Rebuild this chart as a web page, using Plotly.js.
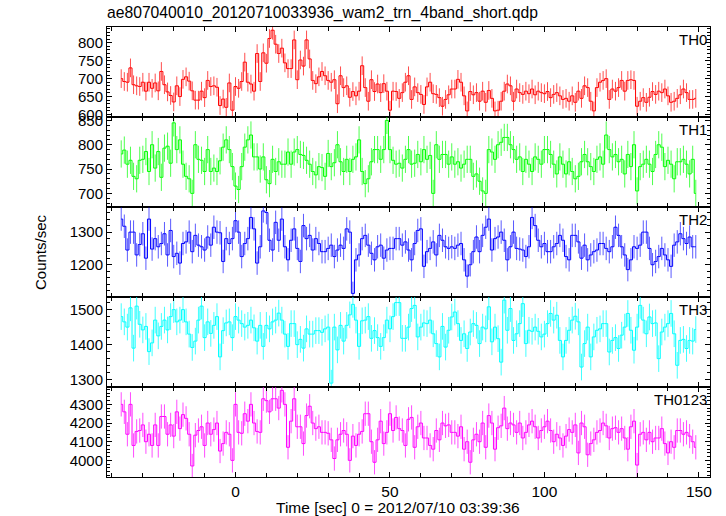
<!DOCTYPE html>
<html><head><meta charset="utf-8">
<script src="https://cdn.plot.ly/plotly-3.0.1.min.js"></script>
<style>html,body{margin:0;padding:0;background:#fff}#chart{width:726px;height:516px}</style>
</head><body><div id="chart"></div>
<script>
const fileTitle = 'ae807040010_20120710033936_wam2_trn_4band_short.qdp';
const xTitle = 'Time [sec] 0 = 2012/07/10 03:39:36';
const yTitle = 'Counts/sec';
const bandNames = ['TH0', 'TH1', 'TH2', 'TH3', 'TH0123'];

const time = [-37,-36,-35,-34,-33,-32,-31,-30,-29,-28,-27,-26,-25,-24,-23,-22,-21,-20,-19,-18,-17,-16,-15,-14,-13,-12,-11,-10,-9,-8,-7,-6,-5,-4,-3,-2,-1,
0,1,2,3,4,5,6,7,8,9,10,11,12,13,14,15,16,17,18,19,20,21,22,23,24,25,26,27,28,29,30,31,32,33,34,35,36,37,38,39,40,41,42,43,44,45,46,47,48,49,
50,51,52,53,54,55,56,57,58,59,60,61,62,63,64,65,66,67,68,69,70,71,72,73,74,75,76,77,78,79,80,81,82,83,84,85,86,87,88,89,90,91,92,93,94,95,96,97,98,99,
100,101,102,103,104,105,106,107,108,109,110,111,112,113,114,115,116,117,118,119,120,121,122,123,124,125,126,127,128,129,130,131,132,133,134,135,136,137,138,139,140,141,142,143,144,145,146,147,148,149];

const th0 = [700,692,690,730,683,680,678,690,665,690,673,688,666,720,683,663,653,635,680,650,698,705,693,666,640,640,665,647,695,678,680,676,625,643,620,688,612,
678,673,692,746,690,685,665,770,692,772,743,812,835,796,770,785,744,728,728,808,697,752,735,808,
755,695,686,705,720,708,695,690,697,630,708,675,680,648,664,652,665,736,675,637,697,664,685,661,686,665,612,665,664,645,661,690,708,642,677,661,656,628,677,690,
658,656,647,623,642,655,671,671,698,690,652,610,664,655,661,637,665,634,667,645,610,612,637,665,685,680,637,671,661,656,665,658,671,655,665,661,658,664,647,656,
661,652,642,645,637,652,634,665,645,680,675,637,610,675,690,695,700,642,671,665,675,695,665,695,697,695,623,637,647,634,648,664,656,665,661,671,652,634,637,645,
655,671,661,642,642,645];

const th1 = [781,789,760,768,735,730,768,770,786,745,800,752,786,733,793,797,762,845,790,810,760,735,730,700,800,770,768,745,790,745,752,745,767,795,810,790,755,
715,708,755,795,810,820,775,775,750,775,728,720,770,745,765,760,760,785,760,785,790,780,778,768,760,745,738,755,753,735,782,755,763,800,765,745,770,745,770,775,
810,745,720,730,765,790,790,770,790,850,
790,768,760,762,752,770,790,760,762,780,765,790,770,778,700,800,770,780,780,760,775,760,765,752,760,770,770,735,740,725,705,700,790,785,770,800,805,815,815,800,
790,770,775,745,770,760,745,775,770,760,790,790,780,760,740,775,760,740,765,745,730,735,765,780,765,755,745,770,775,760,820,790,775,780,765,770,740,780,755,800,
705,755,760,770,760,745,780,800,795,755,768,760,730,765,765,770,760,740,770,700];

const th2 = [1340,1318,1245,1300,1300,1230,1262,1295,1220,1340,1248,1280,1255,1265,1295,1230,1305,1225,1235,1205,1265,1270,1300,1240,1290,1260,1255,1245,1285,1260,1315,1300,1298,1210,1280,1265,1280,
1335,1300,1225,1265,1280,1345,1310,1205,1255,1365,1360,1275,1245,1330,1275,1340,1255,1215,1275,1310,1250,1210,1320,1280,1290,1245,1280,1265,1240,1240,1250,1260,1225,1245,1260,1250,1310,1300,1112,1215,
1230,1280,1290,1260,1235,1215,1255,1260,1220,1245,
1250,1250,1280,1280,1260,1270,1245,1215,1265,1305,1310,1195,1240,1250,1270,1230,1290,1275,1255,1250,1255,1250,1260,1265,1215,1165,1200,1240,1285,1240,1290,1315,1340,1245,1280,1285,1300,1275,1215,1255,
1300,1250,1248,1245,1225,1255,1345,1320,1275,1255,1265,1240,1240,1255,1265,1290,1275,1225,1215,1290,1290,1270,1220,1260,1215,1230,1240,1245,1265,1265,1250,1240,1255,1315,1290,1255,1230,1185,1215,1255,
1250,1260,1300,1300,1250,1200,1210,1225,1250,1230,1215,1195,1260,1270,1295,1280,1265,1285,1255,1255];

const th3 = [1480,1465,1450,1505,1390,1510,1458,1442,1452,1380,1405,1470,1425,1452,1470,1442,1480,1500,1465,1470,1500,1465,1430,1392,1410,1470,1510,1420,1465,1432,1455,1480,1365,1440,1462,1465,1420,
1480,1470,1460,1450,1455,1470,1448,1410,1455,1395,1455,1445,1465,1470,1490,1470,1430,1395,1460,1460,1400,1415,1390,1445,1430,1430,1440,1440,1435,1445,1450,1290,1450,1385,1455,1410,1455,1485,1515,1470,
1395,1468,1470,1480,1418,1440,1420,1395,1420,1470,
1445,1480,1520,1520,1418,1418,1450,1503,1512,1422,1450,1462,1460,1470,1431,1403,1365,1452,1393,1441,1479,1493,1460,1412,1431,1389,1436,1460,1455,1403,1450,1445,
1508,1408,1450,1417,1350,1527,1441,1503,1412,1431,1460,1517,1403,1441,1438,1450,1438,1422,1430,
1460,1489,1470,1484,1412,1365,1412,1441,1470,1481,1465,1336,1403,1450,1365,1422,1441,1445,1460,1460,1379,1412,1420,
1389,1427,1450,1489,1441,1384,1450,1512,1470,1431,1479,1460,1462,1360,1436,1450,
1460,1489,1431,1341,1412,1415,1389,1412,1410,1443];

const th0123 = [4300,4260,4140,4300,4080,4155,4160,4190,4100,4140,4080,4190,4080,4235,4235,4140,4190,4130,4260,4170,4245,4225,4140,3970,4135,4160,4180,4080,4200,4140,4165,4200,4050,4090,4150,4140,4000,
4300,4150,4145,4250,4210,4300,4200,4155,4150,4330,4320,4260,4330,4330,4280,4375,4300,4070,4210,4330,4180,4180,4090,4240,4290,4200,4170,4180,4150,4150,4145,4110,4010,4110,4140,4160,4140,4000,4130,4080,
4140,4155,4250,4250,4100,3990,4110,4210,4090,4150,
4250,4160,4230,4170,4160,4080,4220,4230,4070,4180,4200,4120,4120,4080,4060,4160,4110,4200,4185,4190,4150,4150,4130,4180,4060,4100,3990,4110,4140,4100,4200,4070,4240,4200,4060,4175,4185,4280,4170,4200,
4190,4150,4200,4120,4150,4190,4210,4180,4120,4160,4180,4210,4160,4100,4140,4120,4080,4130,4165,4150,4190,4040,4200,4180,4030,4090,4110,4150,4160,4200,4185,4120,4170,4175,4150,4170,4120,4060,4180,4210,
3975,4140,4150,4110,4150,4100,4120,4120,4170,4090,4040,4100,4070,4160,4160,4140,4150,4130,4100,4070];

const series = [th0, th1, th2, th3, th0123];

const cfg = [
  {color:'#ff0000', errColor:'rgba(255,0,0,0.7)', err:26, range:[593,844], dtick:50, minor:10},
  {color:'#00ff00', errColor:'rgba(0,255,0,0.7)', err:28, range:[672,857], dtick:50, minor:10},
  {color:'#0000ff', errColor:'rgba(0,0,255,0.65)', err:36, range:[1101,1377], dtick:100, minor:20},
  {color:'#00ffff', errColor:'rgba(0,255,255,0.75)', err:38, range:[1279,1536], dtick:100, minor:20},
  {color:'#ff00ff', errColor:'rgba(255,0,255,0.7)', err:65, range:[3911,4393], dtick:100, minor:20}
];

const FONT = '"Liberation Sans", Arial, Helvetica, sans-serif';
const traces = [];
const layout = {
  width:726, height:516,
  margin:{l:107, r:16, t:27, b:39, pad:0},
  paper_bgcolor:'#fff', plot_bgcolor:'#fff',
  showlegend:false,
  font:{family:FONT, size:15, color:'#000'},
  title:{text:fileTitle, xref:'container', x:107/726, xanchor:'left', yref:'container', y:1-13/516, yanchor:'middle', font:{family:FONT, size:15.7, color:'#000'}},
  annotations:[]
};

const n = series.length;
for (let i = 0; i < n; i++) {
  const k = i + 1;
  const c = cfg[i];
  traces.push({
    x: time, y: series[i], type:'scatter', mode:'lines',
    xaxis: 'x' + (k === 1 ? '' : k), yaxis: 'y' + (k === 1 ? '' : k),
    line:{shape:'hvh', width:1, color:c.color},
    error_y:{type:'constant', value:c.err, color:c.errColor, thickness:1, width:0},
    hoverinfo:'skip'
  });
  const xa = {
    range:[-41.6, 153.6], showline:true, mirror:'allticks', linecolor:'#000', linewidth:1,
    ticks:'inside', ticklen:5, tickcolor:'#000', tickwidth:1, tick0:0, dtick:50,
    minor:{dtick:10, ticks:'inside', ticklen:4, tickcolor:'#000', tickwidth:1},
    showgrid:false, zeroline:false, showticklabels: k === n,
    anchor: 'y' + (k === 1 ? '' : k),
    tickfont:{family:FONT, size:15.5, color:'#000'}
  };
  if (k > 1) xa.matches = 'x';
  layout['xaxis' + (k === 1 ? '' : k)] = xa;
  layout['yaxis' + (k === 1 ? '' : k)] = {
    domain:[1 - k / n, 1 - i / n], range:c.range,
    showline:true, mirror:'allticks', linecolor:'#000', linewidth:1,
    ticks:'inside', ticklen:5, tickcolor:'#000', tickwidth:1, tick0:0, dtick:c.dtick,
    minor:{dtick:c.minor, ticks:'inside', ticklen:3, tickcolor:'#000', tickwidth:1},
    showgrid:false, zeroline:false,
    anchor: 'x' + (k === 1 ? '' : k),
    tickfont:{family:FONT, size:15, color:'#000'}
  };
  layout.annotations.push({
    text: bandNames[i], showarrow:false,
    xref:'paper', x:1, xanchor:'right', xshift:-1,
    yref:'y' + (k === 1 ? '' : k) + ' domain', y:1, yanchor:'top', yshift:-2,
    font:{family:FONT, size:15, color:'#000'}
  });
}
layout.annotations.push({
  text:xTitle, showarrow:false, xref:'paper', x:(398-107)/603, xanchor:'center',
  yref:'paper', y:-30/449.4, yanchor:'middle', font:{family:FONT, size:15.5, color:'#000'}
});
layout.annotations.push({
  text:yTitle, showarrow:false, textangle:-90, xref:'paper', x:(40-107)/603, xanchor:'center',
  yref:'paper', y:0.5, yanchor:'middle', font:{family:FONT, size:15, color:'#000'}
});

Plotly.newPlot('chart', traces, layout, {displayModeBar:false, staticPlot:true});
</script>
</body></html>
